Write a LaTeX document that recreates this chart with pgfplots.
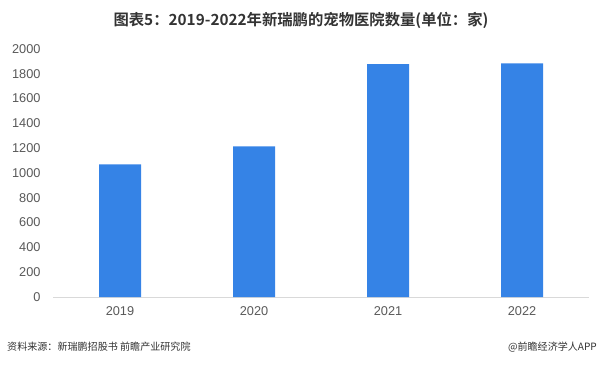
\documentclass[border=0pt]{standalone}
\usepackage{fontspec}
\setmainfont{Liberation Sans}
\newfontfamily\cjk{Noto Sans CJK SC}
\newfontfamily\cjkb{Noto Sans CJK SC Bold}
\usepackage{pgfplots}
\pgfplotsset{compat=1.18}
\definecolor{barblue}{HTML}{3583E6}
\definecolor{ticktext}{HTML}{595959}
\definecolor{axisgray}{HTML}{D9D9D9}
\begin{document}
\begin{tikzpicture}[x=1bp,y=1bp]
\path[use as bounding box] (0,0) rectangle (600,366);
\begin{axis}[
  at={(53bp,69bp)}, anchor=south west,
  width=536bp, height=248bp, scale only axis,
  xmin=-0.5, xmax=3.5, ymin=0, ymax=2000,
  ytick={0,200,...,2000},
  xtick={0,1,2,3}, xticklabels={2019,2020,2021,2022},
  axis x line*=bottom, axis y line*=left,
  x axis line style={draw=axisgray, line width=0.8pt, -},
  y axis line style={draw=none},
  major tick length=0pt,
  tick style={draw=none},
  ticklabel style={font=\fontsize{12.8}{14}\selectfont, text=ticktext},
  /pgf/number format/assume math mode=true,
  /pgf/number format/1000 sep={},
  yticklabel style={xshift=-9bp},
  xticklabel style={yshift=-6bp},
  clip=false,
]
\addplot[ybar, bar width=42bp, fill=barblue, draw=none] coordinates {(0,1070) (1,1215) (2,1878) (3,1884)};
\end{axis}
\node[anchor=center, text=black!80] at (301,346) {\cjkb\fontsize{15.4}{17}\selectfont 图表5：2019-2022年新瑞鹏的宠物医院数量(单位：家)};
\node[anchor=west, inner sep=0pt, text=black!80] at (7,19) {\cjk\fontsize{10.1}{12}\selectfont 资料来源：新瑞鹏招股书 前瞻产业研究院};
\node[anchor=east, inner sep=0pt, text=black!80] at (597,19) {\cjk\fontsize{10.1}{12}\selectfont @前瞻经济学人APP};
\end{tikzpicture}
\end{document}
